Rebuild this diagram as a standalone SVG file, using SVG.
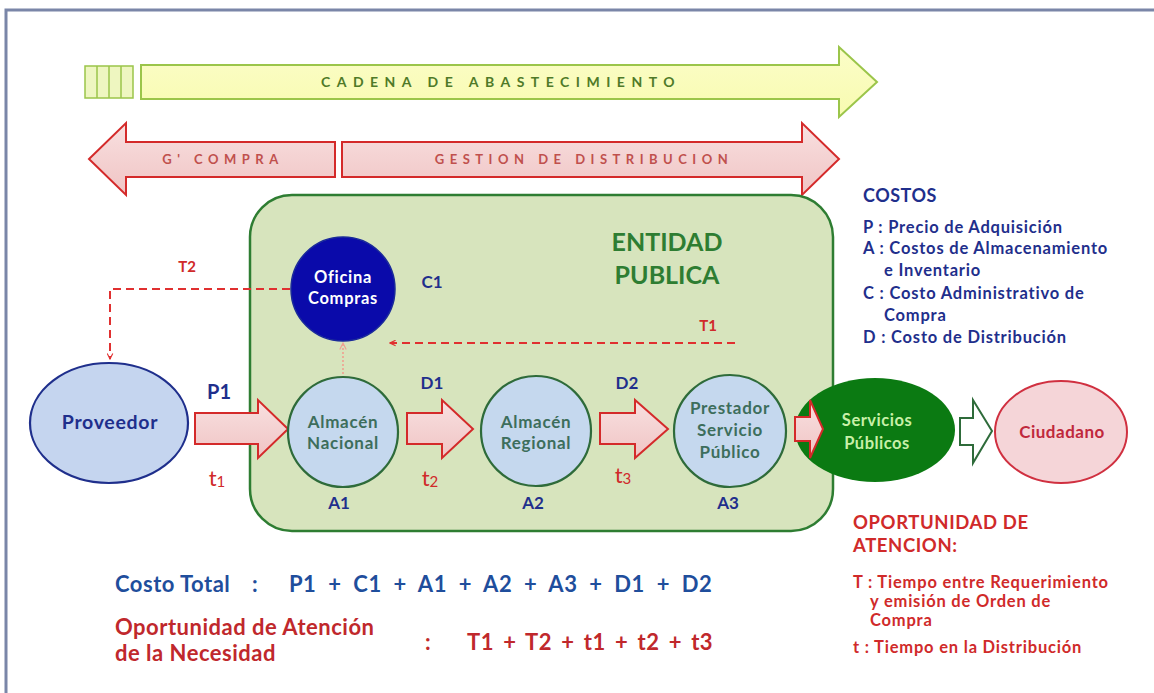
<svg xmlns="http://www.w3.org/2000/svg" width="1154" height="693" viewBox="0 0 1154 693">
<defs>
<linearGradient id="gy" x1="0" y1="0" x2="0" y2="1"><stop offset="0" stop-color="#fbfdc8"/><stop offset="1" stop-color="#f8fbb0"/></linearGradient>
<linearGradient id="gr" x1="0" y1="0" x2="0" y2="1"><stop offset="0" stop-color="#f8e0e0"/><stop offset="1" stop-color="#f0c4c4"/></linearGradient>
<marker id="ah" viewBox="0 0 10 10" refX="9" refY="5" markerWidth="7" markerHeight="7" orient="auto" markerUnits="userSpaceOnUse"><path d="M1,1 L9,5 L1,9" fill="none" stroke="#e03030" stroke-width="1.6"/></marker>
<marker id="ah2" viewBox="0 0 10 10" refX="9" refY="5" markerWidth="8" markerHeight="8" orient="auto" markerUnits="userSpaceOnUse"><path d="M1,1 L9,5 L1,9" fill="none" stroke="#f0a090" stroke-width="1.4"/></marker>
</defs>
<style>
text{font-family:Lato,"Open Sans","Liberation Sans",sans-serif;font-weight:bold}
.band{font-size:13px;letter-spacing:5.5px;text-anchor:middle}
.navy{fill:#1f2f8c}
.red{fill:#d02a2a}
.blk{fill:url(#gr);stroke:#d42a2a;stroke-width:2}
.cn{fill:#c5d8ee;stroke:#2e6b3a;stroke-width:2.2}
.cnt{fill:#3d6e5c;font-size:17px;letter-spacing:0.7px;text-anchor:middle}
.lbl{font-size:17px;text-anchor:middle}
.tt{font-size:22px;text-anchor:middle;font-weight:normal}
.leg{font-size:16.5px;letter-spacing:0.8px}
.hd{font-size:18.5px;letter-spacing:0.6px}
.fm{font-size:22px;letter-spacing:0.5px}
.dash{fill:none;stroke:#e03030;stroke-width:2;stroke-dasharray:8 5}
</style>
<rect x="0" y="0" width="1154" height="693" fill="#ffffff"/>
<rect x="6" y="10" width="1170" height="700" fill="none" stroke="#7a86a8" stroke-width="3"/>

<g id="cadena">
<rect x="85" y="66" width="48" height="32" fill="#eef6c0" stroke="#9bc54a" stroke-width="1.5"/>
<path d="M97,66V98M109,66V98M121,66V98" stroke="#9bc54a" stroke-width="1.5"/>
<path d="M141,65 H839 V47 L877,82 L839,117 V99 H141 Z" fill="url(#gy)" stroke="#9bc54a" stroke-width="2"/>
<text x="501" y="87" style="font-size:14px;letter-spacing:6.5px;text-anchor:middle;fill:#4f7a28">CADENA DE ABASTECIMIENTO</text>
</g>

<g id="compra">
<path d="M335,142 H126 V123 L89,159 L126,195 V177 H335 Z" class="blk"/>
<text x="223" y="164" class="band" fill="#c0504d">G' COMPRA</text>
</g>
<g id="distribucion">
<path d="M342,142 H802 V123 L839,159 L802,195 V177 H342 Z" class="blk"/>
<text x="584" y="164" class="band" fill="#c0504d">GESTION DE DISTRIBUCION</text>
</g>

<g id="entidad">
<rect x="250" y="195" width="583" height="336" rx="42" fill="#d7e4bd" stroke="#2e7d32" stroke-width="2.5"/>
<text x="667" y="251" style="font-size:25px;text-anchor:middle;fill:#2e7d32">ENTIDAD</text>
<text x="667" y="284" style="font-size:25px;text-anchor:middle;fill:#2e7d32">PUBLICA</text>
</g>

<g id="connectors">
<path d="M290,289 H110 V359" class="dash" marker-end="url(#ah)"/>
<path d="M735,343 H390" class="dash" marker-end="url(#ah)"/>
<path d="M343,378 V343" fill="none" stroke="#f0a090" stroke-width="1.6" stroke-dasharray="2 2" marker-end="url(#ah2)"/>
<path d="M195,413 H258 V400 L288,429 L258,458 V444 H195 Z" class="blk"/>
<path d="M407,413 H442 V400 L473,429 L442,458 V444 H407 Z" class="blk"/>
<path d="M600,413 H635 V400 L668,429 L635,458 V444 H600 Z" class="blk"/>
<path d="M960,418 H973 V400 L992,431 L973,463 V445 H960 Z" fill="#ffffff" stroke="#2e6b3a" stroke-width="2"/>
<text x="187" y="272" class="red" style="font-size:15px;text-anchor:middle">T2</text>
<text x="708" y="331" class="red" style="font-size:15px;text-anchor:middle">T1</text>
<text x="219" y="399" class="navy lbl" style="font-size:20px">P1</text>
<text x="217" y="486" class="red tt">t<tspan font-size="15" dy="1">1</tspan></text>
<text x="432" y="389" class="navy lbl">D1</text>
<text x="430" y="486" class="red tt">t<tspan font-size="15" dy="1">2</tspan></text>
<text x="627" y="389" class="navy lbl">D2</text>
<text x="623" y="483" class="red tt">t<tspan font-size="15" dy="1">3</tspan></text>
</g>

<g id="oficina">
<circle cx="343" cy="289" r="52" fill="#0a0aaa" stroke="#1a2a9a" stroke-width="1.5"/>
<text x="343" y="283" style="font-size:16.5px;letter-spacing:0.7px;text-anchor:middle;fill:#ffffff">Oficina</text>
<text x="343" y="304" style="font-size:16.5px;letter-spacing:0.7px;text-anchor:middle;fill:#ffffff">Compras</text>
<text x="432" y="288" class="navy lbl">C1</text>
</g>

<g id="proveedor">
<ellipse cx="109" cy="423" rx="79" ry="60" fill="#c5d5ef" stroke="#1f2f8c" stroke-width="2.2"/>
<text x="110" y="429" class="navy" style="font-size:19.5px;letter-spacing:0.7px;text-anchor:middle">Proveedor</text>
</g>

<g id="almacen-nacional">
<circle cx="343" cy="432" r="55" class="cn"/>
<text x="343" y="428" class="cnt">Almacén</text>
<text x="343" y="449" class="cnt">Nacional</text>
<text x="339" y="509" class="navy lbl">A1</text>
</g>

<g id="almacen-regional">
<circle cx="536" cy="431" r="55" class="cn"/>
<text x="536" y="428" class="cnt">Almacén</text>
<text x="536" y="449" class="cnt">Regional</text>
<text x="533" y="509" class="navy lbl">A2</text>
</g>

<g id="prestador">
<circle cx="730" cy="431" r="56" class="cn"/>
<text x="730" y="414" class="cnt">Prestador</text>
<text x="730" y="436" class="cnt">Servicio</text>
<text x="730" y="458" class="cnt">Público</text>
<text x="728" y="509" class="navy lbl">A3</text>
</g>

<g id="servicios">
<ellipse cx="875" cy="430" rx="80" ry="52" fill="#0b7a12"/>
<path d="M795,417 H810 V400 L823,429 L810,458 V441 H795 Z" class="blk"/>
<text x="877" y="426" style="font-size:16.5px;letter-spacing:0.5px;text-anchor:middle;fill:#c8f0a8">Servicios</text>
<text x="877" y="449" style="font-size:16.5px;letter-spacing:0.5px;text-anchor:middle;fill:#c8f0a8">Públicos</text>
</g>

<g id="ciudadano">
<ellipse cx="1061" cy="432" rx="66" ry="51" fill="#f5d5d8" stroke="#d03040" stroke-width="2"/>
<text x="1062" y="438" style="font-size:17px;letter-spacing:0.5px;text-anchor:middle;fill:#c0283c">Ciudadano</text>
</g>

<g id="costos" class="navy">
<text x="863" y="202" style="font-size:18px;letter-spacing:0.5px">COSTOS</text>
<text x="863" y="233" class="leg">P : Precio de Adquisición</text>
<text x="863" y="254" class="leg">A : Costos de Almacenamiento</text>
<text x="884" y="276" class="leg">e Inventario</text>
<text x="863" y="299" class="leg">C : Costo Administrativo de</text>
<text x="884" y="321" class="leg">Compra</text>
<text x="863" y="343" class="leg">D : Costo de Distribución</text>
</g>

<g id="oportunidad" class="red">
<text x="853" y="529" class="hd">OPORTUNIDAD DE</text>
<text x="853" y="552" class="hd">ATENCION:</text>
<text x="853" y="588" class="leg">T : Tiempo entre Requerimiento</text>
<text x="870" y="607" class="leg">y emisión de Orden de</text>
<text x="870" y="626" class="leg">Compra</text>
<text x="853" y="653" class="leg">t : Tiempo en la Distribución</text>
</g>

<g id="formulas">
<text x="115" y="592" class="fm" style="fill:#1f4e9c">Costo Total</text>
<text x="252" y="592" class="fm" style="fill:#1f4e9c">:</text>
<text x="289" y="592" class="fm" style="fill:#1f4e9c;word-spacing:6px">P1 + C1 + A1 + A2 + A3 + D1 + D2</text>
<text x="115" y="635" class="fm" style="fill:#c0282c">Oportunidad de Atención</text>
<text x="115" y="661" class="fm" style="fill:#c0282c">de la Necesidad</text>
<text x="425" y="650" class="fm" style="fill:#c0282c">:</text>
<text x="467" y="650" class="fm" style="fill:#c0282c;word-spacing:3.4px">T1 + T2 + t1 + t2 + t3</text>
</g>
</svg>
